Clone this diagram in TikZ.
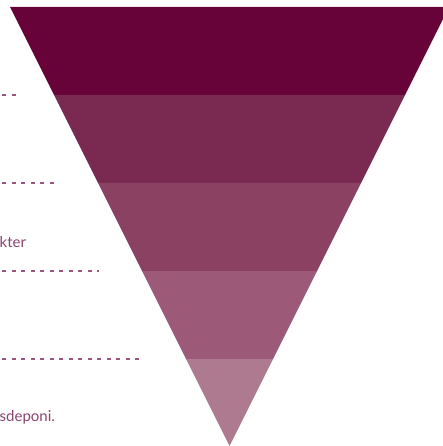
\documentclass[tikz,border=0pt]{standalone}
\usepackage{fontspec}
\setmainfont{Lato}
\definecolor{bandA}{HTML}{68033A}
\definecolor{bandB}{HTML}{7A2950}
\definecolor{bandC}{HTML}{8B4162}
\definecolor{bandD}{HTML}{9C5A78}
\definecolor{bandE}{HTML}{AD7A90}
\definecolor{labeltext}{HTML}{8A4470}
\definecolor{guide}{HTML}{9A5580}
\tikzset{
  guideline/.style={draw=guide, line width=1.2pt, dash pattern=on 4pt off 5.5pt, dash phase=-2pt},
  label/.style={text=labeltext, font=\fontsize{15}{18}\selectfont, anchor=base west, inner sep=0pt},
}
\begin{document}
\begin{tikzpicture}[x=1pt, y=-1pt]
  \useasboundingbox (0,0) rectangle (443,446);
  \clip (0,0) rectangle (443,446);
  % funnel bands: left edge x = 229.5 - (446-y)/2, right edge x = 229.5 + (446-y)/2
  \fill[bandA] (10,7) -- (449,7) -- (405,95) -- (54,95) -- cycle;
  \fill[bandB] (54,95) -- (405,95) -- (361,183) -- (98,183) -- cycle;
  \fill[bandC] (98,183) -- (361,183) -- (317,271) -- (142,271) -- cycle;
  \fill[bandD] (142,271) -- (317,271) -- (273,359) -- (186,359) -- cycle;
  \fill[bandE] (186,359) -- (273,359) -- (229.5,446) -- cycle;
  % dashed guides
  \coordinate (g1a) at (0,95);  \coordinate (g1b) at (18,95);
  \coordinate (g2a) at (0,183); \coordinate (g2b) at (54,183);
  \coordinate (g3a) at (0,271); \coordinate (g3b) at (99,271);
  \coordinate (g4a) at (0,359); \coordinate (g4b) at (144,359);
  \draw[guideline] (g1a) -- (g1b);
  \draw[guideline] (g2a) -- (g2b);
  \draw[guideline] (g3a) -- (g3b);
  \draw[guideline] (g4a) -- (g4b);
  % labels
  \node[label] (t1) at (-0.5,247) {kter};
  \node[label] (t2) at (-0.5,421) {sdeponi.};
\end{tikzpicture}
\end{document}
